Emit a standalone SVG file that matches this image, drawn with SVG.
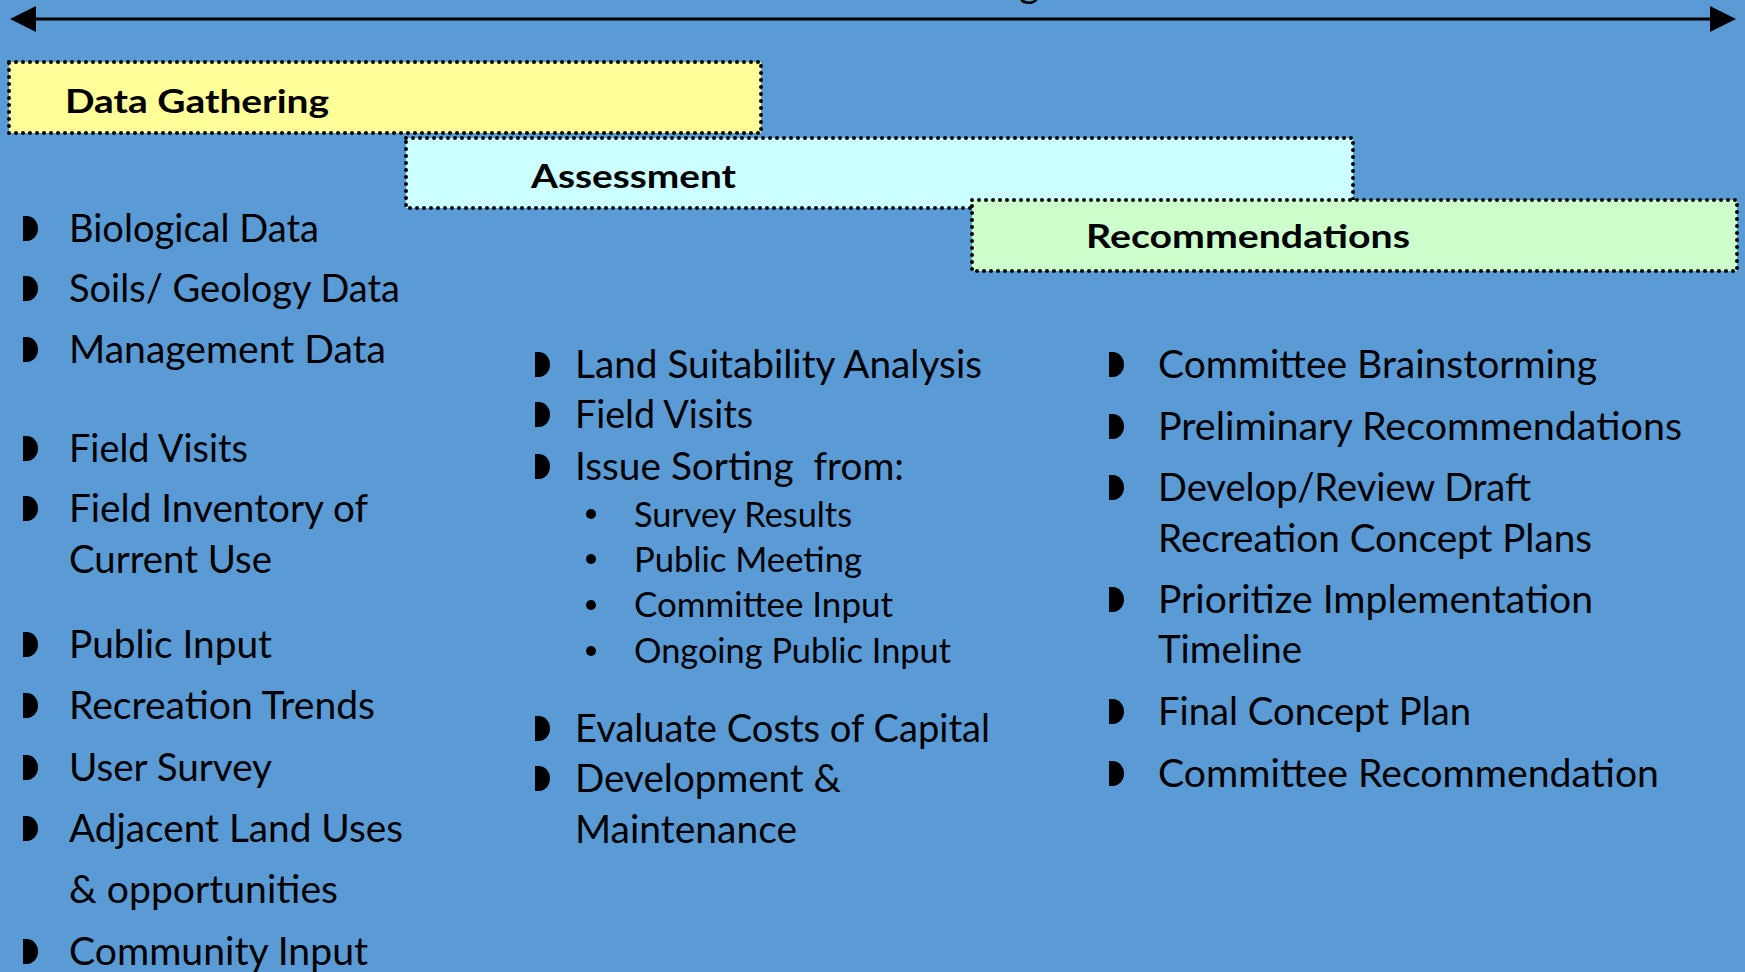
<svg xmlns="http://www.w3.org/2000/svg" xmlns:xlink="http://www.w3.org/1999/xlink" width="1745" height="972" viewBox="0 0 1745 972">
<style>
  .bg { fill: #5B9BD5; }
  .phase { stroke: #000; stroke-width: 4; stroke-dasharray: 0 7; stroke-linecap: round; }
  .head { font-family: "Lato", "Open Sans", sans-serif; font-weight: bold; font-size: 33px; fill: #000; }
  .item { font-family: "Lato", "Open Sans", sans-serif; font-size: 39px; fill: #000; white-space: pre; }
  .sub { font-family: "Lato", "Open Sans", sans-serif; font-size: 34px; fill: #000; }
  .bul { fill: #000; }
  .conn { stroke: #000; stroke-width: 3; fill: none; }
</style>
<defs>
  <marker id="tri" markerUnits="userSpaceOnUse" markerWidth="26" markerHeight="26" refX="0" refY="13" orient="auto-start-reverse" viewBox="0 0 26 26">
    <path d="M0,0 L26,13 L0,26 Z" fill="#000"/>
  </marker>
  <path id="half" d="M0,0 H4 A11,12.5 0 0 1 4,25 H0 Z"/>
</defs>

<rect class="bg" x="0" y="0" width="1745" height="972"/>

<g id="connectors">
  <line class="conn" x1="36" y1="19" x2="1710" y2="19" marker-start="url(#tri)" marker-end="url(#tri)"/>
</g>

<text class="item" x="1019" y="-3">g</text>

<g id="data-gathering">
  <rect class="phase" x="9" y="62" width="752" height="71" fill="#FFFF99"/>
  <text class="head" x="65" y="113" textLength="264" lengthAdjust="spacingAndGlyphs">Data Gathering</text>
</g>

<g id="assessment">
  <rect class="phase" x="406" y="138" width="947" height="70" fill="#CCFFFF"/>
  <text class="head" x="531" y="188" textLength="205" lengthAdjust="spacingAndGlyphs">Assessment</text>
</g>

<g id="recommendations">
  <rect class="phase" x="972" y="200" width="765" height="71" fill="#CCFFCC"/>
  <text class="head" x="1086" y="248" textLength="324" lengthAdjust="spacingAndGlyphs">Recommendations</text>
</g>

<g id="data-gathering-items">
  <use href="#half" class="bul" x="23" y="216"/>
  <text class="item" x="69" y="242" textLength="250" lengthAdjust="spacingAndGlyphs">Biological Data</text>
  <use href="#half" class="bul" x="23" y="276"/>
  <text class="item" x="69" y="302" textLength="331" lengthAdjust="spacingAndGlyphs">Soils/ Geology Data</text>
  <use href="#half" class="bul" x="23" y="337"/>
  <text class="item" x="69" y="363" textLength="317" lengthAdjust="spacingAndGlyphs">Management Data</text>
  <use href="#half" class="bul" x="23" y="436"/>
  <text class="item" x="69" y="462" textLength="179" lengthAdjust="spacingAndGlyphs">Field Visits</text>
  <use href="#half" class="bul" x="23" y="496"/>
  <text class="item" x="69" y="522" textLength="299" lengthAdjust="spacingAndGlyphs">Field Inventory of</text>
  <text class="item" x="69" y="573" textLength="203" lengthAdjust="spacingAndGlyphs">Current Use</text>
  <use href="#half" class="bul" x="23" y="632"/>
  <text class="item" x="69" y="658" textLength="203" lengthAdjust="spacingAndGlyphs">Public Input</text>
  <use href="#half" class="bul" x="23" y="693"/>
  <text class="item" x="69" y="719" textLength="306" lengthAdjust="spacingAndGlyphs">Recreation Trends</text>
  <use href="#half" class="bul" x="23" y="755"/>
  <text class="item" x="69" y="781" textLength="203" lengthAdjust="spacingAndGlyphs">User Survey</text>
  <use href="#half" class="bul" x="23" y="816"/>
  <text class="item" x="69" y="842" textLength="334" lengthAdjust="spacingAndGlyphs">Adjacent Land Uses</text>
  <text class="item" x="69" y="903" textLength="269" lengthAdjust="spacingAndGlyphs">&amp; opportunities</text>
  <use href="#half" class="bul" x="23" y="939"/>
  <text class="item" x="69" y="965" textLength="299" lengthAdjust="spacingAndGlyphs">Community Input</text>
</g>

<g id="assessment-items">
  <use href="#half" class="bul" x="535" y="352"/>
  <text class="item" x="575" y="378" textLength="407" lengthAdjust="spacingAndGlyphs">Land Suitability Analysis</text>
  <use href="#half" class="bul" x="535" y="402"/>
  <text class="item" x="575" y="428" textLength="178" lengthAdjust="spacingAndGlyphs">Field Visits</text>
  <use href="#half" class="bul" x="535" y="454"/>
  <text class="item" x="575" y="480" textLength="329" lengthAdjust="spacingAndGlyphs">Issue Sorting  from:</text>
  <circle class="bul" cx="591" cy="514" r="5"/>
  <text class="sub" x="634" y="527" textLength="218" lengthAdjust="spacingAndGlyphs">Survey Results</text>
  <circle class="bul" cx="591" cy="559" r="5"/>
  <text class="sub" x="634" y="572" textLength="228" lengthAdjust="spacingAndGlyphs">Public Meeting</text>
  <circle class="bul" cx="591" cy="605" r="5"/>
  <text class="sub" x="634" y="617" textLength="259" lengthAdjust="spacingAndGlyphs">Committee Input</text>
  <circle class="bul" cx="591" cy="651" r="5"/>
  <text class="sub" x="634" y="663" textLength="317" lengthAdjust="spacingAndGlyphs">Ongoing Public Input</text>
  <use href="#half" class="bul" x="535" y="716"/>
  <text class="item" x="575" y="742" textLength="415" lengthAdjust="spacingAndGlyphs">Evaluate Costs of Capital</text>
  <use href="#half" class="bul" x="535" y="766"/>
  <text class="item" x="575" y="792" textLength="266" lengthAdjust="spacingAndGlyphs">Development &amp;</text>
  <text class="item" x="575" y="843" textLength="222" lengthAdjust="spacingAndGlyphs">Maintenance</text>
</g>

<g id="recommendation-items">
  <use href="#half" class="bul" x="1109" y="352"/>
  <text class="item" x="1158" y="378" textLength="439" lengthAdjust="spacingAndGlyphs">Committee Brainstorming</text>
  <use href="#half" class="bul" x="1109" y="414"/>
  <text class="item" x="1158" y="440" textLength="524" lengthAdjust="spacingAndGlyphs">Preliminary Recommendations</text>
  <use href="#half" class="bul" x="1109" y="475"/>
  <text class="item" x="1158" y="501" textLength="373" lengthAdjust="spacingAndGlyphs">Develop/Review Draft</text>
  <text class="item" x="1158" y="552" textLength="434" lengthAdjust="spacingAndGlyphs">Recreation Concept Plans</text>
  <use href="#half" class="bul" x="1109" y="587"/>
  <text class="item" x="1158" y="613" textLength="435" lengthAdjust="spacingAndGlyphs">Prioritize Implementation</text>
  <text class="item" x="1158" y="663" textLength="144" lengthAdjust="spacingAndGlyphs">Timeline</text>
  <use href="#half" class="bul" x="1109" y="699"/>
  <text class="item" x="1158" y="725" textLength="313" lengthAdjust="spacingAndGlyphs">Final Concept Plan</text>
  <use href="#half" class="bul" x="1109" y="761"/>
  <text class="item" x="1158" y="787" textLength="501" lengthAdjust="spacingAndGlyphs">Committee Recommendation</text>
</g>
</svg>
